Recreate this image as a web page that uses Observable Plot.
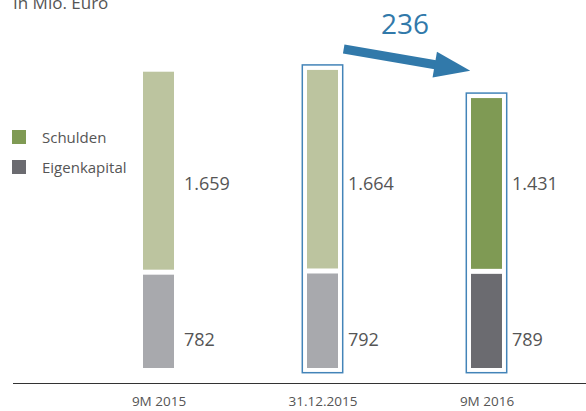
<!DOCTYPE html>
<html>
<head>
<meta charset="utf-8">
<script src="https://cdn.jsdelivr.net/npm/d3@7"></script>
<script src="https://cdn.jsdelivr.net/npm/@observablehq/plot@0.6"></script>
<style>
  html, body { margin: 0; padding: 0; background: #fff; }
  #wrap { position: relative; width: 586px; height: 411px; overflow: hidden; font-family: "Open Sans", sans-serif; }
  #title { position: absolute; left: 13px; top: -6px; font-size: 17px; line-height: 17px; color: #555; white-space: nowrap; }
  #legend { position: absolute; left: 12px; top: 129px; font-size: 15px; color: #555; }
  .item { display: flex; align-items: center; height: 15px; margin-bottom: 15px; }
  .sw { width: 14px; height: 14px; margin-right: 16px; }
  #chart svg { display: block; }
</style>
</head>
<body>
<div id="wrap">
  <div id="chart"></div>
  <div id="title"></div>
  <div id="legend"></div>
</div>
<script>
// ---- data ----
const periods = ["9M 2015", "31.12.2015", "9M 2016"];
const schulden = [1659, 1664, 1431];
const eigenkapital = [782, 792, 789];
const seriesNames = ["Schulden", "Eigenkapital"];
const comparedPeriods = ["31.12.2015", "9M 2016"];
const currentPeriod = "9M 2016";
const unitLabel = "In Mio. Euro";
const labelRows = { Schulden: 1540, Eigenkapital: 235 };

// ---- styles ----
const colors = {
  current: { Schulden: "#7f9a54", Eigenkapital: "#6b6b70" },
  past: { Schulden: "#bcc49f", Eigenkapital: "#a8a9ad" }
};
const blue = "#3179aa";
const outlineBlue = "#4384b8";

const de = d3.formatLocale({ decimal: ",", thousands: ".", grouping: [3], currency: ["", " €"] });
const fmt = de.format(",d");

const rows = periods.map((p, i) => ({
  period: p,
  eq: eigenkapital[i],
  debt: schulden[i],
  total: eigenkapital[i] + schulden[i],
  palette: p === currentPeriod ? colors.current : colors.past
}));

const [fromP, toP] = comparedPeriods;
const fromRow = rows.find(r => r.period === fromP);
const toRow = rows.find(r => r.period === toP);
const change = [{ from: fromP, to: toP, y1: fromRow.total, y2: toRow.total }];

const labels = rows.flatMap(r => [
  { period: r.period, y: labelRows.Schulden, text: fmt(r.debt) },
  { period: r.period, y: labelRows.Eigenkapital, text: fmt(r.eq) }
]);

// custom elongated triangle for the arrow head (tip pointing along +x)
const headSymbol = {
  draw(ctx) {
    ctx.moveTo(-17, 0);
    ctx.lineTo(-53, -13);
    ctx.lineTo(-53, 13);
    ctx.closePath();
  }
};

const chart = Plot.plot({
  width: 586,
  height: 411,
  marginTop: 10,
  marginBottom: 43,
  marginLeft: 13,
  marginRight: 0,
  style: { fontFamily: "Open Sans, sans-serif", fontSize: "13.5px", color: "#555", background: "transparent" },
  x: { domain: periods, label: null, tickSize: 0, tickPadding: 28,
       paddingInner: 0.81155, paddingOuter: 0.64742, align: 0.6066 },
  y: { domain: [0, 3000], axis: null },
  color: { type: "identity" },
  marks: [
    Plot.ruleY([0], { dy: 15, stroke: "#333", strokeWidth: 1 }),
    Plot.barY(rows, { x: "period", y1: 0, y2: "eq", fill: d => d.palette.Eigenkapital }),
    Plot.barY(rows, { x: "period", y1: "eq", y2: "total", dy: -5, fill: d => d.palette.Schulden }),
    Plot.barY(rows.filter(r => comparedPeriods.includes(r.period)), {
      x: "period", y1: 0, y2: "total", fill: "none", stroke: outlineBlue, strokeWidth: 1.5,
      insetLeft: -4.7, insetRight: -4.7, insetTop: -10, insetBottom: -4.7
    }),
    Plot.text(labels, { x: "period", y: "y", text: "text", dx: 25, textAnchor: "start", fontSize: 18, fill: "#555" }),
    Plot.arrow(change, {
      x1: "from", y1: "y1", x2: "to", y2: "y2", dy: -30,
      insetStart: 21, insetEnd: 45, headLength: 0,
      stroke: blue, strokeWidth: 9, strokeLinecap: "butt"
    }),
    Plot.dot(change, { x: "to", y: "y2", dy: -30, symbol: headSymbol, rotate: 9.7, fill: blue, stroke: "none", r: 5 }),
    Plot.text(change, { x: "from", y: "y1", dx: 82, dy: -50, text: d => fmt(d.y1 - d.y2), fontSize: 28, fill: blue })
  ]
});
document.getElementById("chart").appendChild(chart);

document.getElementById("title").textContent = unitLabel;
const legend = document.getElementById("legend");
seriesNames.forEach(s => {
  const item = document.createElement("div");
  item.className = "item";
  const sw = document.createElement("div");
  sw.className = "sw";
  sw.style.background = colors.current[s];
  const t = document.createElement("span");
  t.textContent = s;
  item.appendChild(sw);
  item.appendChild(t);
  legend.appendChild(item);
});
</script>
</body>
</html>
